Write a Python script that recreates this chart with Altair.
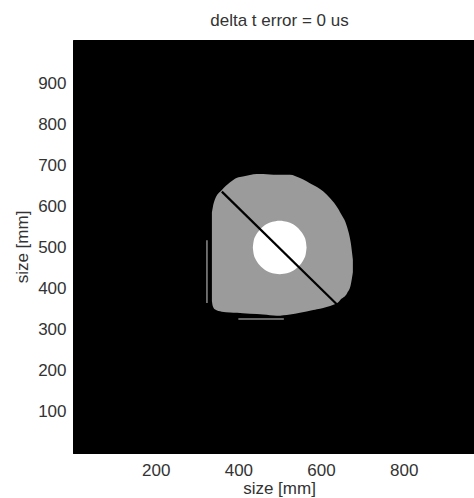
import altair as alt
import pandas as pd

# Gray blob outline: x, upper edge, lower edge
blob_x      = [336, 338, 343, 360, 380, 397, 411, 445, 460, 493, 525, 549, 581, 590, 605, 622, 641, 646, 663, 672, 677]
blob_top    = [585, 597, 616, 640, 659, 670, 673, 679, 679, 677, 677, 669, 652, 647, 637, 620, 595, 586, 550, 511, 470]
blob_bottom = [370, 358, 350, 344, 342, 341, 340, 338, 337, 334, 337, 341, 348, 350, 353, 358, 366, 372, 389, 410, 440]

# White disc
disc_x      = [435, 437, 442, 450, 460, 475, 490, 500, 510, 525, 540, 550, 558, 563, 565]
disc_top    = [500, 516, 529, 541, 551, 560, 564, 565, 564, 560, 551, 541, 529, 516, 500]
disc_bottom = [500, 484, 471, 459, 449, 440, 436, 435, 436, 440, 449, 459, 471, 484, 500]

# Black diagonal line
line_x = [360, 638]
line_y = [636, 362]

# Faint artifacts
art_id = ["left", "left", "bottom", "bottom"]
art_x  = [324, 324, 400, 510]
art_y  = [518, 365, 326, 326]

x_ticks = [200, 400, 600, 800]
y_ticks = [100, 200, 300, 400, 500, 600, 700, 800, 900]

FONT = "Liberation Sans"
TXT = "#333333"

blob_df = pd.DataFrame({"x": blob_x, "top": blob_top, "bottom": blob_bottom})
disc_df = pd.DataFrame({"x": disc_x, "top": disc_top, "bottom": disc_bottom})
line_df = pd.DataFrame({"x": line_x, "y": line_y})
art_df = pd.DataFrame({"id": art_id, "x": art_x, "y": art_y})

xscale = alt.Scale(domain=[0, 970], nice=False, zero=False)
yscale = alt.Scale(domain=[0, 1005], nice=False, zero=False)

xaxis = alt.Axis(values=x_ticks, title="size [mm]", grid=False, ticks=False,
                 labelPadding=9, labelFontSize=17, labelFont=FONT, labelColor=TXT,
                 titleFontSize=17, titleFont=FONT, titleColor=TXT, titleFontWeight="normal",
                 titleX=206, titlePadding=2, domainColor="black")
yaxis = alt.Axis(values=y_ticks, title="size [mm]", grid=False, ticks=False,
                 labelPadding=7, labelFontSize=17, labelFont=FONT, labelColor=TXT,
                 titleFontSize=17, titleFont=FONT, titleColor=TXT, titleFontWeight="normal",
                 titlePadding=6, domainColor="black")

blob = alt.Chart(blob_df).mark_area(color="#9b9b9b", interpolate="monotone").encode(
    x=alt.X("x:Q", scale=xscale, axis=xaxis),
    y=alt.Y("top:Q", scale=yscale, axis=yaxis),
    y2="bottom:Q",
)

disc = alt.Chart(disc_df).mark_area(color="white", interpolate="monotone").encode(
    x=alt.X("x:Q", scale=xscale),
    y=alt.Y("top:Q", scale=yscale),
    y2="bottom:Q",
)

art = alt.Chart(art_df).mark_line(color="#8a8a8a", strokeWidth=1.5).encode(
    x=alt.X("x:Q", scale=xscale),
    y=alt.Y("y:Q", scale=yscale),
    detail="id:N",
)

diag = alt.Chart(line_df).mark_line(color="black", strokeWidth=2.2).encode(
    x=alt.X("x:Q", scale=xscale),
    y=alt.Y("y:Q", scale=yscale),
)

chart = alt.layer(blob, disc, art, diag).properties(
    width=401,
    height=413,
    background="white",
    title=alt.TitleParams("delta t error = 0 us", fontSize=17, font=FONT, color=TXT,
                          fontWeight="normal", dx=6, offset=10),
    padding={"left": 73, "top": 40, "right": 0, "bottom": 45},
    autosize=alt.AutoSizeParams(type="none"),
).configure_view(fill="black", stroke="black")

chart.save("out.html", embed_options={"renderer": "svg", "actions": False})
